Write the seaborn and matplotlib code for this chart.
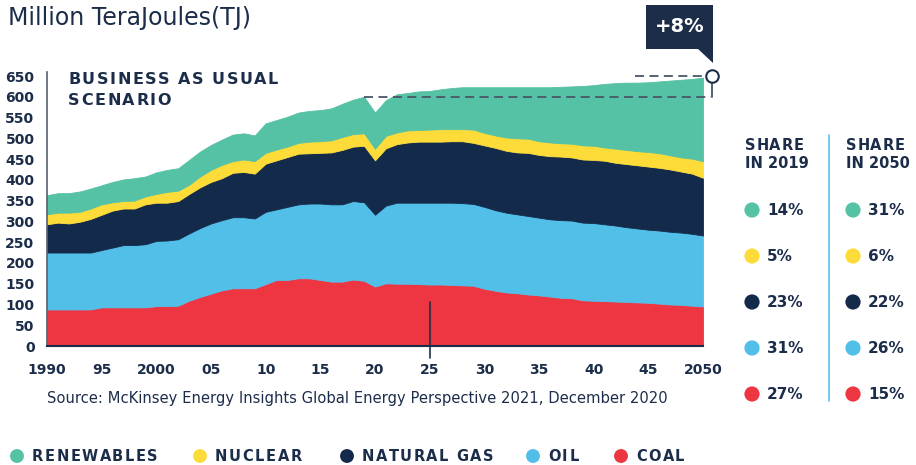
import matplotlib
matplotlib.use("Agg")
import matplotlib.pyplot as plt
import seaborn as sns
import pandas as pd
from matplotlib.patches import Polygon, Rectangle

# ---------------- data ----------------
years = list(range(1990, 2051))
coal = [88, 88, 88, 88, 88, 93, 93, 93, 93, 93, 96, 96, 97, 109, 118, 126, 134, 139, 139, 139,
        149, 159, 159, 163, 163, 159, 155, 155, 160, 157, 143, 151, 150, 150, 149, 148, 148, 147,
        146, 145, 138, 133, 129, 127, 124, 122, 119, 116, 115, 110, 109, 108, 107, 106, 105, 104,
        102, 100, 99, 97, 95]
oil = [137, 137, 137, 137, 137, 138, 144, 150, 150, 152, 157, 158, 160, 162, 166, 169, 169, 171,
       171, 168, 174, 170, 176, 178, 180, 184, 186, 186, 189, 189, 173, 187, 195, 195, 196, 197,
       197, 198, 198, 197, 197, 194, 192, 190, 189, 187, 186, 187, 187, 187, 187, 185, 183, 180,
       178, 176, 176, 175, 174, 173, 171]
gas = [68, 72, 70, 74, 81, 85, 89, 88, 88, 96, 92, 91, 92, 95, 98, 100, 101, 107, 109, 108, 116,
       118, 120, 122, 121, 122, 125, 131, 131, 136, 131, 138, 141, 145, 147, 147, 147, 148, 149,
       147, 148, 150, 149, 149, 152, 151, 152, 153, 152, 152, 152, 153, 151, 152, 152, 152, 151,
       150, 147, 145, 139]
nuclear = [24, 24, 26, 24, 25, 25, 20, 18, 19, 19, 21, 26, 25, 22, 26, 29, 32, 28, 30, 30, 26, 26,
           25, 26, 28, 28, 29, 31, 30, 30, 28, 30, 28, 29, 28, 29, 30, 29, 29, 32, 30, 30, 32, 34,
           34, 33, 33, 32, 33, 34, 34, 32, 34, 34, 34, 35, 35, 34, 34, 36, 40]
renewables = [46, 47, 47, 49, 48, 46, 49, 52, 54, 48, 52, 53, 54, 60, 60, 60, 61, 64, 63, 62, 71,
              71, 72, 73, 74, 75, 77, 80, 83, 88, 87, 86, 92, 90, 93, 93, 96, 99, 101, 102, 110,
              116, 121, 123, 124, 130, 133, 136, 138, 143, 146, 153, 158, 162, 165, 168, 173, 180,
              187, 192, 201]

series_names = ["RENEWABLES", "NUCLEAR", "NATURAL GAS", "OIL", "COAL"]
share_2019 = ["14%", "5%", "23%", "31%", "27%"]
share_2050 = ["31%", "6%", "22%", "26%", "15%"]
x_ticks = [1990, 1995, 2000, 2005, 2010, 2015, 2020, 2025, 2030, 2035, 2040, 2045, 2050]
x_tick_labels = ["1990", "95", "2000", "05", "10", "15", "20", "25", "30", "35", "40", "45", "2050"]
y_ticks = list(range(0, 651, 50))
baseline_2019 = 600
peak_2050 = 651
change_label = "+8%"

# ---------------- style ----------------
palette = {"RENEWABLES": "#55c1a5", "NUCLEAR": "#fddc3a", "NATURAL GAS": "#142a4a",
           "OIL": "#51bfe8", "COAL": "#ee3642"}
NAVY = "#1c2d4a"
GREY = "#4a5668"

sns.set_theme(style="white")
plt.rcParams['font.family'] = ['DejaVu Sans']

W, H = 916, 465
fig = plt.figure(figsize=(W / 100, H / 100), dpi=100)
ax = fig.add_axes([47 / W, 1 - 346 / H, 656 / W, 270 / H])

df = pd.DataFrame({"year": years, "COAL": coal, "OIL": oil, "NATURAL GAS": gas,
                   "NUCLEAR": nuclear, "RENEWABLES": renewables})
order = ["COAL", "OIL", "NATURAL GAS", "NUCLEAR", "RENEWABLES"]
polys = ax.stackplot(df["year"], *[df[c] for c in order],
                     colors=[palette[c] for c in order], linewidth=0.6)
for p, c in zip(polys, order):
    p.set_edgecolor(palette[c])

ax.set_xlim(1990, 2050)
ax.set_ylim(0, 650)
ax.set_xticks(x_ticks, x_tick_labels)
ax.set_yticks(y_ticks)
ax.tick_params(axis="x", length=0, pad=12, labelsize=10, labelcolor=NAVY)
ax.tick_params(axis="y", length=0, pad=9, labelsize=10, labelcolor=NAVY)
for lbl in ax.get_xticklabels() + ax.get_yticklabels():
    lbl.set_fontweight("semibold")
sns.despine(ax=ax)
ax.spines["left"].set_color("#56606e")
ax.spines["left"].set_linewidth(1.2)
ax.spines["left"].set_bounds(0, 660)
ax.spines["bottom"].set_color(NAVY)
ax.spines["bottom"].set_linewidth(1.5)
ax.grid(False)

# dashed reference lines + marker
ax.plot([2019, 2050.7], [baseline_2019, baseline_2019], color=GREY, lw=1.3,
        dashes=(5, 3), clip_on=False, zorder=5)
ax.plot([2043.8, 2050.3], [peak_2050, peak_2050], color=GREY, lw=1.3,
        dashes=(5, 3), clip_on=False, zorder=5)
ax.plot([2050.8, 2050.8], [baseline_2019, peak_2050 - 8], color=GREY, lw=1.3,
        clip_on=False, zorder=5)
ax.plot([2050.8], [peak_2050], "o", ms=9, mfc="white", mec=NAVY, mew=1.5,
        clip_on=False, zorder=6)
# 2025 marker line
ax.plot([2025, 2025], [107, -30], color=NAVY, lw=1.2, clip_on=False, zorder=5)

# ---------------- overlay (pixel coordinates) ----------------
ov = fig.add_axes([0, 0, 1, 1], facecolor="none")
ov.set_xlim(0, W)
ov.set_ylim(H, 0)
ov.axis("off")
renderer = fig.canvas.get_renderer()


def _width(s, **kw):
    t = ov.text(0, 0, s, **kw)
    w = t.get_window_extent(renderer=renderer).width
    t.remove()
    return w


def spaced_text(x, y, s, spacing, **kw):
    """Draw text with extra letter spacing (pixels)."""
    bar = _width("|", **kw)
    for i, ch in enumerate(s):
        if ch == " ":
            continue
        off = (_width(s[:i] + "|", **kw) - bar) if i > 0 else 0.0
        ov.text(x + off + i * spacing, y, ch, ha="left", va="center", **kw)


ov.text(8, 18, "Million TeraJoules(TJ)", fontsize=17, color=NAVY, va="center", ha="left")
spaced_text(68, 79, "BUSINESS AS USUAL", 1.6, fontsize=11.5, fontweight="bold", color=NAVY)
spaced_text(68, 100, "SCENARIO", 1.6, fontsize=11.5, fontweight="bold", color=NAVY)
ov.text(47, 398, "Source: McKinsey Energy Insights Global Energy Perspective 2021, December 2020",
        fontsize=10.6, color=NAVY, va="center", ha="left")

# callout box
ov.add_patch(Rectangle((646, 5), 67, 44, color=NAVY, lw=0))
ov.add_patch(Polygon([(697, 48), (713, 48), (713, 63)], closed=True, color=NAVY, lw=0))
ov.text(680, 27, change_label, fontsize=14, fontweight="bold", color="white",
        ha="center", va="center")

# share panel
ov.plot([829, 829], [135, 401], color="#5bc0e8", lw=1.2)
for x0, yr in [(745, "2019"), (846, "2050")]:
    spaced_text(x0, 145, "SHARE", 0.8, fontsize=10.5, fontweight="bold", color=NAVY)
    ov.text(x0, 163, "IN " + yr, fontsize=10.5, fontweight="bold", color=NAVY, va="center")

row_y = [210, 256, 302, 348, 394]
share_df = pd.DataFrame({
    "x": [752] * 5 + [853] * 5,
    "y": row_y * 2,
    "name": series_names * 2,
})
sns.scatterplot(data=share_df, x="x", y="y", hue="name", palette=palette, s=120,
                linewidth=0, legend=False, ax=ov)
for yv, s19, s50 in zip(row_y, share_2019, share_2050):
    ov.text(767, yv, s19, fontsize=11, fontweight="bold", color=NAVY, va="center")
    ov.text(868, yv, s50, fontsize=11, fontweight="bold", color=NAVY, va="center")

# bottom legend
leg_x = [17, 200, 347, 533, 621]
leg_df = pd.DataFrame({"x": leg_x, "y": [456] * 5, "name": series_names})
sns.scatterplot(data=leg_df, x="x", y="y", hue="name", palette=palette, s=100,
                linewidth=0, legend=False, ax=ov)
for xv, nm in zip(leg_x, series_names):
    spaced_text(xv + 15, 456, nm, 1.6, fontsize=10.5, fontweight="bold", color=NAVY)

ov.set_xlim(0, W)
ov.set_ylim(H, 0)
ov.axis("off")

fig.savefig("out.png", dpi=100)
